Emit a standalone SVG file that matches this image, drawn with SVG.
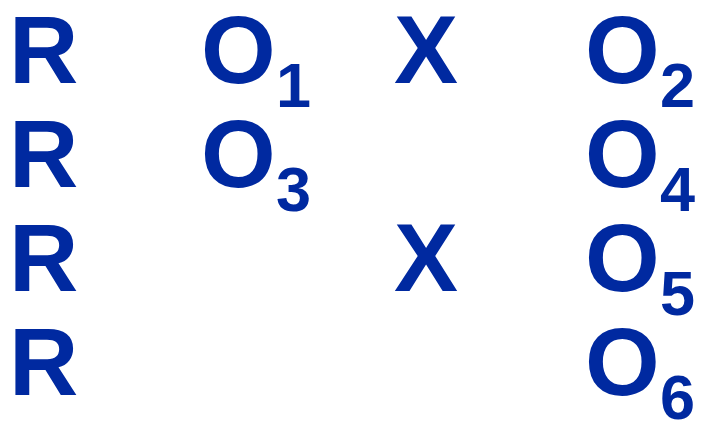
<svg xmlns="http://www.w3.org/2000/svg" width="712" height="425" viewBox="0 0 712 425">
<style>
.t{font-family:"Liberation Sans",Arial,sans-serif;font-weight:bold;fill:#0029a0}
.m{font-size:96px}
.s{font-size:63px}
</style>
<rect width="712" height="425" fill="#ffffff"/>
<g id="row1">
<text class="t m" x="9" y="83">R</text>
<text class="t m" x="201" y="83">O</text><text class="t s" x="276" y="107">1</text>
<text class="t m" x="394" y="83">X</text>
<text class="t m" x="585" y="83">O</text><text class="t s" x="660" y="107">2</text>
</g>
<g id="row2">
<text class="t m" x="9" y="187">R</text>
<text class="t m" x="201" y="187">O</text><text class="t s" x="276" y="211">3</text>
<text class="t m" x="585" y="187">O</text><text class="t s" x="660" y="211">4</text>
</g>
<g id="row3">
<text class="t m" x="9" y="291">R</text>
<text class="t m" x="394" y="291">X</text>
<text class="t m" x="585" y="291">O</text><text class="t s" x="660" y="315">5</text>
</g>
<g id="row4">
<text class="t m" x="9" y="395">R</text>
<text class="t m" x="585" y="395">O</text><text class="t s" x="660" y="419">6</text>
</g>
</svg>
